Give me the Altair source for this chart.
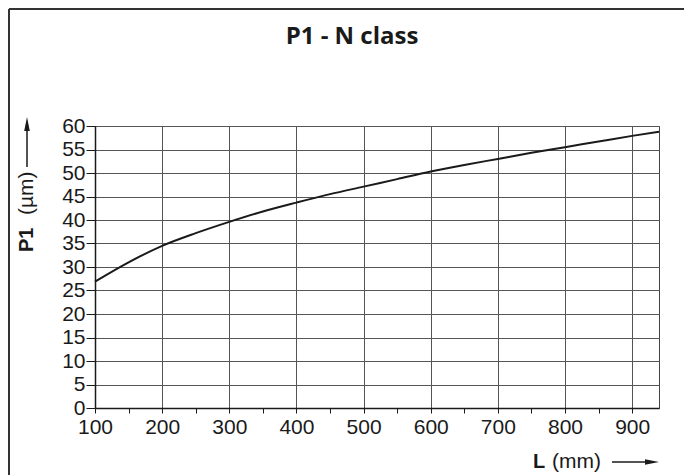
import altair as alt
import pandas as pd

# ---- data ----
L_mm = [100, 150, 200, 250, 300, 350, 400, 450, 500, 550, 600, 650, 700, 750, 800, 850, 900, 940]
P1_um = [26.9, 31.0, 34.5, 37.2, 39.6, 41.8, 43.7, 45.5, 47.1, 48.7, 50.3, 51.7, 53.0, 54.3, 55.5, 56.7, 57.9, 58.8]
x_ticks = list(range(100, 901, 50))
y_ticks = list(range(0, 61, 5))

title_text = "P1 - N class"
y_title_bold = "P1"
y_title_unit = "(µm)"
x_title_bold = "L"
x_title_unit = "(mm)"

df = pd.DataFrame({"L": L_mm, "P1": P1_um})
one = pd.DataFrame({"k": [0]})

W, H = 564, 282
INK = "#1a1a1a"

x_enc = alt.X(
    "L:Q",
    scale=alt.Scale(domain=[100, 940], nice=False, zero=False),
    axis=alt.Axis(
        values=x_ticks,
        title="",
        labelExpr="datum.value % 100 === 0 ? datum.label : ''",
        gridOpacity={"condition": {"test": "datum.value % 100 === 0", "value": 1}, "value": 0},
        tickSize=5,
        labelPadding=3,
        labelFlush=False,
        labelOverlap=False,
    ),
)
y_enc = alt.Y(
    "P1:Q",
    scale=alt.Scale(domain=[0, 60], nice=False),
    axis=alt.Axis(values=y_ticks, title="", tickSize=9, labelPadding=1, labelOverlap=False),
)

curve = alt.Chart(df).mark_line(color=INK, strokeWidth=2, interpolate="monotone").encode(x=x_enc, y=y_enc)

def txt(t, x, y, bold=False, angle=0, align="left", size=21, font="Liberation Sans"):
    kw = dict(text=t, align=align, baseline="middle", font=font, fontSize=size,
              fontWeight="bold" if bold else "normal", color=INK)
    if angle:
        kw["angle"] = angle
    return alt.Chart(one).mark_text(**kw).encode(x=alt.value(x), y=alt.value(y))

title = txt(title_text, 257, -89, bold=True, align="center", size=24, font="Open Sans")

ylab1 = txt(y_title_bold, -68, 126, bold=True, angle=270, size=20)
ylab2 = txt(y_title_unit, -68, 89, angle=270)
yline = alt.Chart(one).mark_rule(color=INK, strokeWidth=1.5).encode(
    x=alt.value(-68), y=alt.value(41), y2=alt.value(0))
yhead = alt.Chart(one).mark_point(shape="M0,-1L0.4,1L-0.4,1Z", filled=True, size=196,
                                  color=INK, opacity=1, strokeWidth=0).encode(
    x=alt.value(-68), y=alt.value(-2))

xlab1 = txt(x_title_bold, 438, 336, bold=True, size=20)
xlab2 = txt(x_title_unit, 457, 336)
xline = alt.Chart(one).mark_rule(color=INK, strokeWidth=1.5).encode(
    x=alt.value(517), x2=alt.value(555), y=alt.value(336))
xhead = alt.Chart(one).mark_point(shape="M1,0L-1,-0.4L-1,0.4Z", filled=True, size=196,
                                  color=INK, opacity=1, strokeWidth=0).encode(
    x=alt.value(557), y=alt.value(336))

# outer frame (left and top edges visible in the reference)
frame_left = alt.Chart(one).mark_rule(color="#333", strokeWidth=2).encode(
    x=alt.value(-86), y=alt.value(-117), y2=alt.value(400))
frame_top = alt.Chart(one).mark_rule(color="#333", strokeWidth=2).encode(
    x=alt.value(-86), x2=alt.value(640), y=alt.value(-117))

chart = alt.layer(
    curve, title, ylab1, ylab2, yline, yhead, xlab1, xlab2, xline, xhead, frame_left, frame_top
).properties(
    width=W, height=H,
    background="white",
    autosize=alt.AutoSizeParams(type="none"),
    padding={"left": 87, "top": 118, "right": 25, "bottom": 67},
).configure_view(
    stroke="#444", strokeWidth=1
).configure_axis(
    domainColor=INK, domainWidth=1.5, gridColor="#555", gridWidth=1,
    tickColor=INK, tickWidth=1, labelColor=INK,
    labelFont="Liberation Sans", labelFontSize=21,
)

chart.save("out.html", embed_options={"renderer": "svg", "actions": False})
